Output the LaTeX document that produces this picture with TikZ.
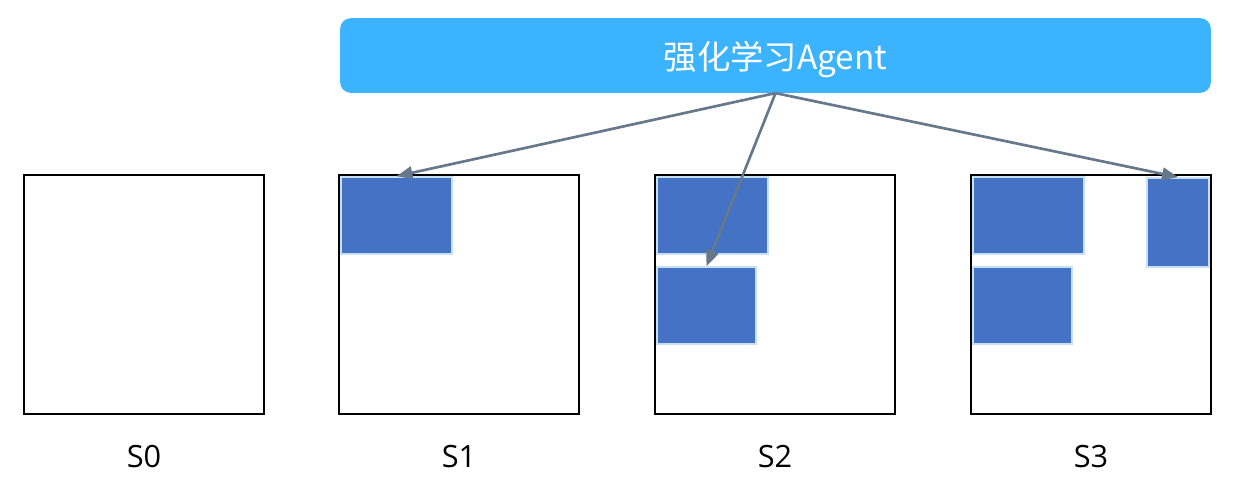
\documentclass[tikz,border=0pt]{standalone}
\usepackage{fontspec}
\setmainfont{Open Sans}
\newfontfamily\cjk{Noto Sans CJK SC}
\usetikzlibrary{arrows.meta}
\definecolor{agentblue}{RGB}{59,179,255}
\definecolor{cellblue}{RGB}{68,114,196}
\definecolor{cellrim}{RGB}{200,224,244}
\definecolor{linkgray}{RGB}{103,120,138}

\begin{document}
\begin{tikzpicture}[x=0.75pt,y=-0.75pt,
    state/.style={draw=black,line width=1.5pt,minimum width=180pt,minimum height=179pt,inner sep=0pt},
    cell/.style={fill=cellblue,draw=cellrim,line width=1.5pt,inner sep=0pt},
    tag/.style={font=\fontsize{23}{27}\selectfont},
    link/.style={draw=linkgray,line width=2pt,-{Triangle[length=12pt,width=9.5pt]}}]

    \useasboundingbox (0,0) rectangle (1235,489);

    \node (agent) at (775.5,55.5) [fill=agentblue,rounded corners=8pt,minimum width=653pt,minimum height=56pt,inner sep=0pt,text depth=0pt,text=white,font=\cjk\fontsize{25}{29}\selectfont] {强化学习Agent};

    \node (s0) at (144,294.5) [state] {};
    \node (s1) at (459,294.5) [state] {};
    \node (s2) at (775,294.5) [state] {};
    \node (s3) at (1091,294.5) [state] {};

    \node (l0) at (144,457) [tag] {S0};
    \node (l1) at (459,457) [tag] {S1};
    \node (l2) at (775,457) [tag] {S2};
    \node (l3) at (1091,457) [tag] {S3};

    \node (c1) at (396.5,215.5) [cell,minimum width=83pt,minimum height=57.5pt] {};
    \node (c2a) at (712.5,215.5) [cell,minimum width=83pt,minimum height=57.5pt] {};
    \node (c2b) at (706.5,305.5) [cell,minimum width=74pt,minimum height=57.5pt] {};
    \node (c3a) at (1028.5,215.5) [cell,minimum width=83pt,minimum height=57.5pt] {};
    \node (c3b) at (1022.5,305.5) [cell,minimum width=74pt,minimum height=57.5pt] {};
    \node (c3c) at (1178,222.5) [cell,minimum width=46.5pt,minimum height=66.5pt] {};

    \draw [link] (agent.south) to (c1.north);
    \draw [link] (agent.south) to (c2b.north);
    \draw [link] (agent.south) to (c3c.north);

\end{tikzpicture}
\end{document}
